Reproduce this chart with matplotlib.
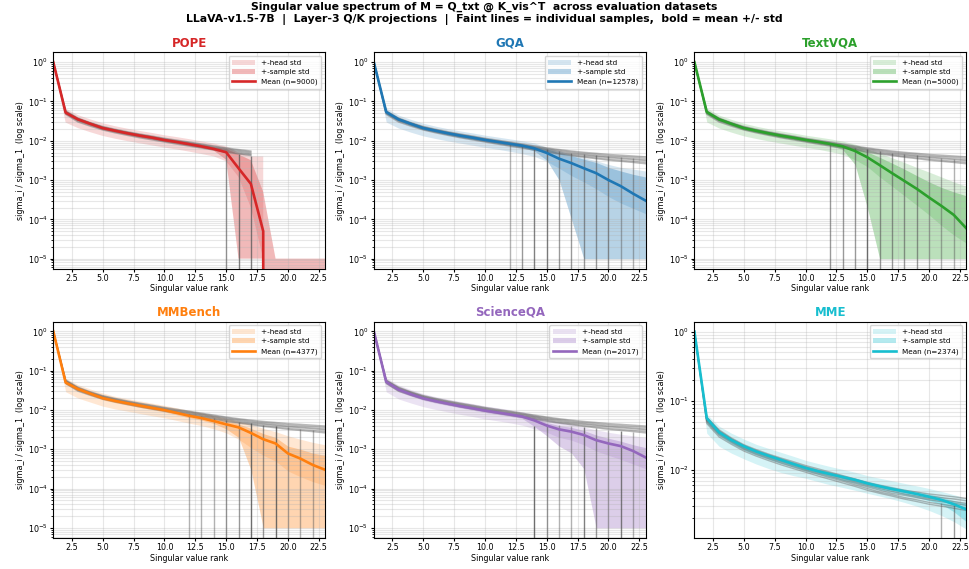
import numpy as np
import matplotlib
matplotlib.use("Agg")
import matplotlib.pyplot as plt

ranks = list(range(1, 24))

names = ["POPE", "GQA", "TextVQA", "MMBench", "ScienceQA", "MME"]
colors = ["#d62728", "#1f77b4", "#2ca02c", "#ff7f0e", "#9467bd", "#17becf"]
n_samples = [9000, 12578, 5000, 4377, 2017, 2374]
last_rank = [17, 23, 23, 23, 23, 23]

# mean spectrum (sigma_i / sigma_1), 0 = rank not present
mean_pope = [1.0, 0.052, 0.035, 0.027, 0.021, 0.018, 0.0155, 0.0135, 0.012, 0.0104, 0.0093, 0.0082,
             0.0072, 0.0062, 0.0051, 0.0020, 0.0008, 5e-5, 0, 0, 0, 0, 0]
mean_gqa = [1.0, 0.054, 0.035, 0.027, 0.021, 0.018, 0.0155, 0.0135, 0.012, 0.0105, 0.0094, 0.0084,
            0.0075, 0.0064, 0.0049, 0.0035, 0.0027, 0.002, 0.0015, 0.001, 0.0007, 0.00045, 0.0003]
mean_tvqa = [1.0, 0.054, 0.035, 0.027, 0.021, 0.018, 0.0155, 0.0135, 0.012, 0.0105, 0.0094, 0.0083,
             0.0072, 0.0055, 0.0038, 0.0024, 0.0015, 0.00095, 0.0006, 0.00036, 0.00022, 0.00013, 6e-5]
mean_mmb = [1.0, 0.05, 0.034, 0.026, 0.02, 0.017, 0.0148, 0.0129, 0.0113, 0.0099, 0.0084, 0.0071,
            0.0062, 0.0052, 0.0043, 0.0036, 0.0026, 0.0018, 0.0014, 0.00078, 0.00058, 0.0004, 0.0003]
mean_sqa = [1.0, 0.052, 0.033, 0.025, 0.0197, 0.0167, 0.0144, 0.0125, 0.011, 0.0096, 0.0086, 0.0077,
            0.0068, 0.0054, 0.004, 0.0032, 0.0028, 0.0023, 0.0017, 0.0014, 0.0012, 0.0009, 0.00062]
mean_mme = [1.0, 0.056, 0.035, 0.027, 0.022, 0.0185, 0.016, 0.014, 0.0122, 0.0107, 0.0096, 0.0087,
            0.0079, 0.0072, 0.0064, 0.0058, 0.0053, 0.0049, 0.0045, 0.0041, 0.0037, 0.0032, 0.0027]

# +- head std band
head_hi_pope = [1.0, 0.066, 0.045, 0.035, 0.028, 0.0235, 0.0203, 0.0178, 0.0158, 0.0138, 0.0124, 0.011,
                0.0097, 0.0085, 0.0072, 0.005, 0.004, 0.004, 0, 0, 0, 0, 0]
head_lo_pope = [1.0, 0.029, 0.021, 0.0165, 0.0133, 0.0113, 0.0098, 0.0086, 0.0076, 0.0067, 0.006, 0.0053,
                0.0046, 0.004, 0.003, 0.0012, 0.0002, 1e-5, 0, 0, 0, 0, 0]
head_hi_gqa = [1.0, 0.068, 0.045, 0.035, 0.028, 0.0235, 0.0203, 0.0178, 0.0158, 0.0139, 0.0125, 0.0112,
               0.01, 0.0088, 0.0068, 0.0056, 0.0045, 0.0037, 0.0031, 0.0025, 0.0021, 0.0019, 0.0017]
head_lo_gqa = [1.0, 0.030, 0.021, 0.0165, 0.0133, 0.0114, 0.0099, 0.0087, 0.0077, 0.0068, 0.0061, 0.0054,
               0.0047, 0.004, 0.003, 0.002, 0.0013, 0.0009, 0.0006, 0.00038, 0.00026, 0.00019, 0.00014]
head_hi_tvqa = [1.0, 0.068, 0.045, 0.035, 0.028, 0.0235, 0.0203, 0.0178, 0.0158, 0.0139, 0.0125, 0.0112,
                0.0098, 0.0082, 0.0062, 0.0048, 0.0037, 0.0028, 0.0021, 0.0016, 0.0012, 0.0009, 0.0007]
head_lo_tvqa = [1.0, 0.030, 0.021, 0.0165, 0.0133, 0.0114, 0.0099, 0.0087, 0.0077, 0.0068, 0.0061, 0.0053,
                0.0045, 0.0033, 0.0022, 0.0012, 0.0007, 0.0004, 0.00023, 0.00013, 7e-5, 4e-5, 2.5e-5]
head_hi_mmb = [1.0, 0.064, 0.044, 0.034, 0.027, 0.0222, 0.0194, 0.017, 0.0149, 0.0131, 0.0113, 0.0097,
               0.0085, 0.0073, 0.0061, 0.0052, 0.0043, 0.0034, 0.0028, 0.0022, 0.0018, 0.0015, 0.0013]
head_lo_mmb = [1.0, 0.029, 0.020, 0.0158, 0.0125, 0.0106, 0.0093, 0.0081, 0.0071, 0.0063, 0.0054, 0.0046,
               0.004, 0.0033, 0.0026, 0.0018, 0.0011, 0.0007, 0.0005, 0.00028, 0.0002, 0.00015, 0.00012]
head_hi_sqa = [1.0, 0.066, 0.043, 0.033, 0.026, 0.0218, 0.0189, 0.0165, 0.0145, 0.0127, 0.0114, 0.0102,
               0.009, 0.0075, 0.0058, 0.0049, 0.0043, 0.0037, 0.0031, 0.0027, 0.0024, 0.0022, 0.002]
head_lo_sqa = [1.0, 0.029, 0.019, 0.015, 0.0121, 0.0103, 0.0089, 0.0077, 0.0068, 0.0059, 0.0053, 0.0047,
               0.0041, 0.0033, 0.0027, 0.002, 0.0017, 0.0013, 0.0009, 0.0007, 0.00055, 0.00042, 0.00032]
head_hi_mme = [1.0, 0.064, 0.043, 0.034, 0.028, 0.0235, 0.0205, 0.018, 0.0158, 0.0138, 0.0124, 0.0112,
               0.0102, 0.0093, 0.0083, 0.0076, 0.007, 0.0064, 0.0059, 0.0054, 0.0049, 0.0044, 0.0039]
head_lo_mme = [1.0, 0.034, 0.022, 0.0175, 0.0145, 0.0122, 0.0105, 0.0092, 0.0083, 0.0076, 0.0068, 0.0061,
               0.0056, 0.0051, 0.0046, 0.0042, 0.0038, 0.0034, 0.003, 0.0026, 0.0022, 0.0018, 0.0014]

# +- sample std band (floored at 1e-5)
samp_hi_pope = [1.0, 0.057, 0.038, 0.0295, 0.023, 0.0197, 0.017, 0.0148, 0.0131, 0.0114, 0.0102, 0.009,
                0.0079, 0.0068, 0.0062, 0.0045, 0.0032, 0.0005, 1e-5, 1e-5, 1e-5, 1e-5, 1e-5]
samp_lo_pope = [1.0, 0.047, 0.032, 0.0245, 0.019, 0.0163, 0.014, 0.0122, 0.0109, 0.0094, 0.0084, 0.0074,
                0.0065, 0.0056, 0.0033, 1e-5, 1e-5, 1e-5, 0, 0, 0, 0, 0]
samp_hi_gqa = [1.0, 0.058, 0.038, 0.0295, 0.023, 0.0197, 0.017, 0.0148, 0.0131, 0.0115, 0.0103, 0.0092,
               0.0083, 0.0073, 0.0062, 0.005, 0.0042, 0.0034, 0.0028, 0.0021, 0.0017, 0.0014, 0.0012]
samp_lo_gqa = [1.0, 0.048, 0.032, 0.0245, 0.019, 0.0163, 0.014, 0.0122, 0.0109, 0.0095, 0.0085, 0.0076,
               0.0067, 0.0055, 0.0032, 0.001, 0.0001, 1e-5, 1e-5, 1e-5, 1e-5, 1e-5, 1e-5]
samp_hi_tvqa = [1.0, 0.058, 0.038, 0.0295, 0.023, 0.0197, 0.017, 0.0148, 0.0131, 0.0115, 0.0103, 0.0091,
                0.008, 0.0066, 0.0052, 0.0038, 0.0027, 0.0019, 0.0013, 0.0009, 0.00065, 0.0005, 0.0004]
samp_lo_tvqa = [1.0, 0.048, 0.032, 0.0245, 0.019, 0.0163, 0.014, 0.0122, 0.0109, 0.0095, 0.0085, 0.0075,
                0.006, 0.0025, 0.0002, 1e-5, 1e-5, 1e-5, 1e-5, 1e-5, 1e-5, 1e-5, 1e-5]
samp_hi_mmb = [1.0, 0.056, 0.037, 0.0285, 0.022, 0.0187, 0.0163, 0.0142, 0.0124, 0.0109, 0.0093, 0.0079,
               0.0069, 0.0059, 0.0052, 0.0044, 0.0034, 0.0025, 0.002, 0.0012, 0.001, 0.0008, 0.0007]
samp_lo_mmb = [1.0, 0.045, 0.031, 0.0235, 0.018, 0.0153, 0.0133, 0.0116, 0.0102, 0.0089, 0.0075, 0.0063,
               0.0055, 0.0045, 0.0033, 0.002, 0.0003, 1e-5, 1e-5, 1e-5, 1e-5, 1e-5, 1e-5]
samp_hi_sqa = [1.0, 0.057, 0.036, 0.0275, 0.0215, 0.0183, 0.0158, 0.0137, 0.0121, 0.0105, 0.0094, 0.0085,
               0.0075, 0.0062, 0.0048, 0.004, 0.0036, 0.003, 0.0023, 0.0019, 0.0016, 0.0013, 0.0011]
samp_lo_sqa = [1.0, 0.046, 0.029, 0.0225, 0.0177, 0.015, 0.013, 0.0113, 0.0099, 0.0086, 0.0077, 0.0069,
               0.0061, 0.0038, 0.0022, 0.0012, 0.0008, 0.00032, 1e-5, 1e-5, 1e-5, 1e-5, 1e-5]
samp_hi_mme = [1.0, 0.06, 0.038, 0.029, 0.0235, 0.0198, 0.0172, 0.015, 0.0131, 0.0115, 0.0103, 0.0094,
               0.0085, 0.0077, 0.0069, 0.0063, 0.0058, 0.0053, 0.0049, 0.0045, 0.0041, 0.0036, 0.0033]
samp_lo_mme = [1.0, 0.047, 0.031, 0.024, 0.0195, 0.0165, 0.0143, 0.0125, 0.011, 0.0097, 0.0087, 0.0079,
               0.0071, 0.0065, 0.0058, 0.0052, 0.0048, 0.0044, 0.004, 0.0036, 0.0032, 0.0025, 0.0018]

# a few typical individual-sample spectra (faint grey lines)
sample_lines = [
    [1, 0.058, 0.038, 0.029, 0.0232, 0.0197, 0.017, 0.0149, 0.0132, 0.0116, 0.0104, 0.0093,
     0.0083, 0.0074, 0.0066, 0.006, 0.0055, 0.0051, 0.0048, 0.0045, 0.0043, 0.0041, 0.0039],
    [1, 0.056, 0.0365, 0.028, 0.0223, 0.0189, 0.0163, 0.0143, 0.0126, 0.0111, 0.0099, 0.0089,
     0.0079, 0.007, 0.0063, 0.0057, 0.0052, 0.0048, 0.0045, 0.0042, 0.004, 0.0038, 0.0036],
    [1, 0.054, 0.035, 0.027, 0.0215, 0.0182, 0.0157, 0.0137, 0.0121, 0.0107, 0.0095, 0.0085,
     0.0076, 0.0067, 0.006, 0.0054, 0.0049, 0.0045, 0.0042, 0.0039, 0.0037, 0.0035, 0.0033],
    [1, 0.052, 0.0335, 0.026, 0.0207, 0.0175, 0.0151, 0.0132, 0.0116, 0.0102, 0.0091, 0.0081,
     0.0072, 0.0064, 0.0057, 0.0051, 0.0046, 0.0043, 0.004, 0.0037, 0.0035, 0.0033, 0.0031],
    [1, 0.050, 0.032, 0.025, 0.0199, 0.0168, 0.0145, 0.0126, 0.0111, 0.0098, 0.0087, 0.0077,
     0.0069, 0.0061, 0.0054, 0.0048, 0.0044, 0.004, 0.0037, 0.0034, 0.0032, 0.003, 0.0028],
    [1, 0.047, 0.030, 0.0235, 0.0188, 0.0159, 0.0137, 0.0119, 0.0105, 0.0093, 0.0082, 0.0073,
     0.0065, 0.0058, 0.0051, 0.0046, 0.0042, 0.0038, 0.0035, 0.0032, 0.003, 0.0028, 0.0026],
]

# ranks where some samples run out of singular values (they drop to zero)
cut_rank_pope = [15, 16, 17]
cut_top_pope = [0.0052, 0.0046, 0.0042]
cut_n_pope = [2, 3, 3]
cut_rank_gqa = [12, 13, 14, 15, 16, 17, 18, 19, 20, 21, 22]
cut_top_gqa = [0.0085, 0.0076, 0.0068, 0.006, 0.0055, 0.005, 0.0047, 0.0044, 0.0041, 0.0038, 0.0036]
cut_n_gqa = [1, 2, 3, 3, 2, 2, 2, 2, 2, 1, 1]
cut_rank_tvqa = [12, 13, 14, 15, 16, 17, 18, 19, 20, 21, 22]
cut_top_tvqa = [0.0085, 0.0076, 0.0067, 0.006, 0.0054, 0.0049, 0.0046, 0.0043, 0.004, 0.0037, 0.0035]
cut_n_tvqa = [2, 2, 2, 4, 2, 2, 2, 2, 1, 1, 1]
cut_rank_mmb = [12, 13, 14, 15, 16, 17, 18, 19, 20, 21, 22]
cut_top_mmb = [0.0078, 0.007, 0.0062, 0.0056, 0.005, 0.0046, 0.0042, 0.0039, 0.0036, 0.0033, 0.0031]
cut_n_mmb = [1, 1, 1, 2, 2, 4, 2, 4, 1, 1, 1]
cut_rank_sqa = [14, 15, 16, 17, 18, 19, 20, 21, 22]
cut_top_sqa = [0.004, 0.0045, 0.0042, 0.004, 0.0037, 0.0034, 0.0031, 0.0029, 0.0027]
cut_n_sqa = [4, 2, 1, 1, 3, 2, 1, 3, 1]
cut_rank_mme = [21, 22]
cut_top_mme = [0.0033, 0.0031]
cut_n_mme = [1, 2]

means = [mean_pope, mean_gqa, mean_tvqa, mean_mmb, mean_sqa, mean_mme]
head_his = [head_hi_pope, head_hi_gqa, head_hi_tvqa, head_hi_mmb, head_hi_sqa, head_hi_mme]
head_los = [head_lo_pope, head_lo_gqa, head_lo_tvqa, head_lo_mmb, head_lo_sqa, head_lo_mme]
samp_his = [samp_hi_pope, samp_hi_gqa, samp_hi_tvqa, samp_hi_mmb, samp_hi_sqa, samp_hi_mme]
samp_los = [samp_lo_pope, samp_lo_gqa, samp_lo_tvqa, samp_lo_mmb, samp_lo_sqa, samp_lo_mme]
cut_ranks = [cut_rank_pope, cut_rank_gqa, cut_rank_tvqa, cut_rank_mmb, cut_rank_sqa, cut_rank_mme]
cut_tops = [cut_top_pope, cut_top_gqa, cut_top_tvqa, cut_top_mmb, cut_top_sqa, cut_top_mme]
cut_ns = [cut_n_pope, cut_n_gqa, cut_n_tvqa, cut_n_mmb, cut_n_sqa, cut_n_mme]

fig, axes = plt.subplots(2, 3, figsize=(9.69, 5.69), dpi=100)
fig.subplots_adjust(left=0.055, right=0.997, top=0.908, bottom=0.055, wspace=0.18, hspace=0.245)

for i, ax in enumerate(axes.flat):
    c = colors[i]
    ax.set_yscale("log")
    ax.fill_between(ranks, head_los[i], head_his[i], color=c, alpha=0.18, linewidth=0, label="+-head std")
    ax.fill_between(ranks, samp_los[i], samp_his[i], color=c, alpha=0.32, linewidth=0, label="+-sample std")

    last = last_rank[i]
    for line in sample_lines:
        ax.plot(ranks[:last], line[:last], color="#555555", alpha=0.4, linewidth=1.0)
    for r, top, n in zip(cut_ranks[i], cut_tops[i], cut_ns[i]):
        ax.vlines(r, 0, top, color="#555555", alpha=min(0.85, 0.3 + 0.15 * n), linewidth=1.0)

    ax.plot(ranks, means[i], color=c, linewidth=1.9, label=f"Mean (n={n_samples[i]})")

    ax.set_xlim(1, 23)
    if names[i] == "MME":
        ax.set_ylim(1.05e-3, 1.4)
    else:
        ax.set_ylim(5.6e-6, 1.78)
    ax.grid(True, which="both", alpha=0.3, linewidth=0.8)
    ax.set_title(names[i], color=c, fontsize=8.5, fontweight="bold", pad=4)
    ax.set_xlabel("Singular value rank", fontsize=5.8, labelpad=1)
    ax.set_ylabel("sigma_i / sigma_1  (log scale)", fontsize=5.8, labelpad=2)
    ax.tick_params(axis="both", which="major", labelsize=5.8, length=2.5, pad=1.5)
    ax.tick_params(axis="both", which="minor", length=1.5)
    ax.legend(loc="upper right", fontsize=5.2, framealpha=0.8, handlelength=3.2, borderpad=0.5)

fig.suptitle("Singular value spectrum of M = Q_txt @ K_vis^T  across evaluation datasets\n"
             "LLaVA-v1.5-7B  |  Layer-3 Q/K projections  |  Faint lines = individual samples,  bold = mean +/- std",
             fontsize=7.8, fontweight="bold", y=0.997)

fig.savefig("out.png", dpi=100)
